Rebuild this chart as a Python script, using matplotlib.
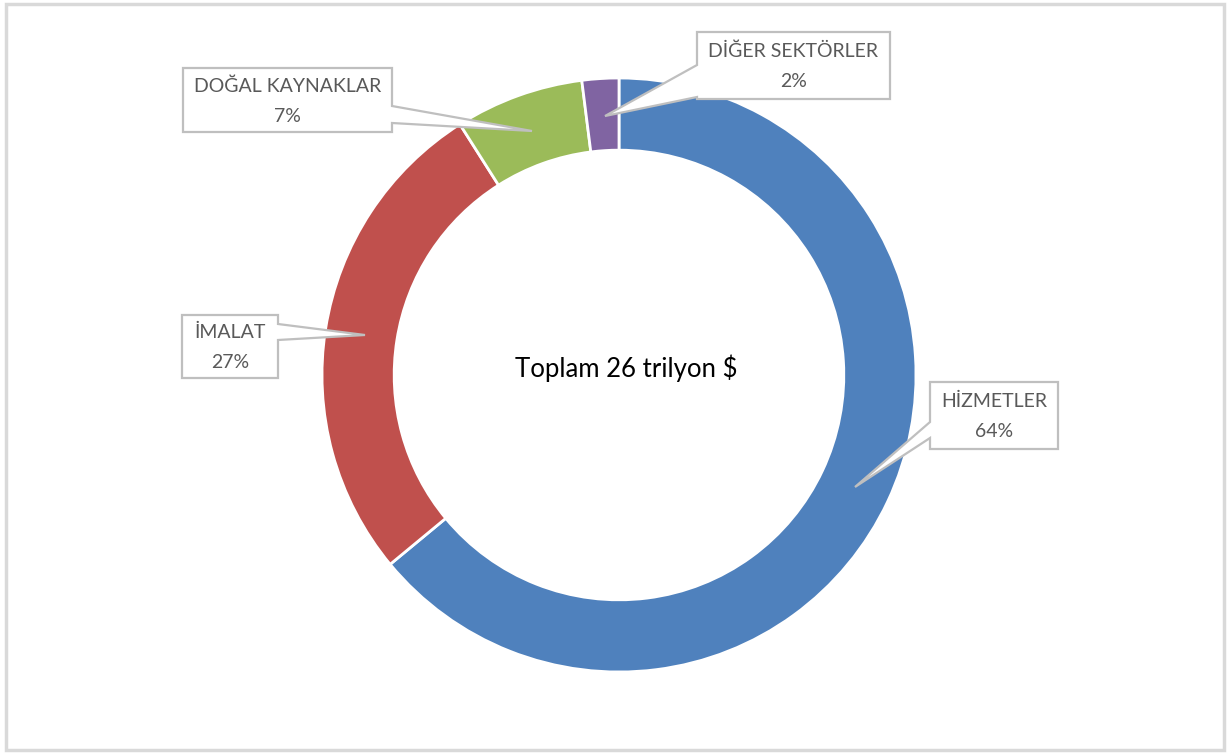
import matplotlib.pyplot as plt
from matplotlib.patches import Polygon, Rectangle

# data
sectors = ["HİZMETLER", "İMALAT", "DOĞAL KAYNAKLAR", "DİĞER SEKTÖRLER"]
shares = [64, 27, 7, 2]
colors = ["#4F81BD", "#C0504D", "#9BBB59", "#8064A2"]
center_text = "Toplam 26 trilyon $"

W, H = 1229, 754
fig = plt.figure(figsize=(W / 100, H / 100), dpi=100)
ax = fig.add_axes([0, 0, 1, 1])
ax.set_xlim(0, W)
ax.set_ylim(0, H)
ax.set_aspect("equal")
ax.axis("off")

# outer frame
fig.patches.append(Rectangle((6 / W, 4 / H), 1218 / W, 746 / H, transform=fig.transFigure,
                             fill=False, edgecolor="#d9d9d9", linewidth=2.5))

cx, cy, R = 619, H - 375, 297
ax.pie(shares, colors=colors, startangle=90, counterclock=False, center=(cx, cy), radius=R,
       wedgeprops=dict(width=R * 0.243, edgecolor="white", linewidth=2))
ax.set_xlim(0, W)
ax.set_ylim(0, H)
ax.text(cx + 7, cy + 7, center_text, ha="center", va="center", fontsize=18.5,
        family="Lato", color="black")

# callouts: box (x0, y0, x1, y1) in pixels from top, pointer side, base y-range, tip
callouts = [
    ((930, 382, 1058, 449), "left", (422, 438), (855, 487)),
    ((182, 315, 278, 378), "right", (324, 340), (365, 335)),
    ((183, 68, 392, 132), "right", (106, 123), (532, 131)),
    ((697, 32, 890, 99), "left", (65, 97), (605, 116)),
]

for (x0, y0, x1, y1), side, (b0, b1), tip in callouts:
    if side == "left":
        pts = [(x0, y0), (x1, y0), (x1, y1), (x0, y1), (x0, b1), tip, (x0, b0)]
    else:
        pts = [(x0, y0), (x1, y0), (x1, b0), tip, (x1, b1), (x1, y1), (x0, y1)]
    pts = [(px, H - py) for px, py in pts]
    ax.add_patch(Polygon(pts, closed=True, facecolor="white", edgecolor="#bfbfbf",
                         linewidth=1.6, zorder=5))

for name, val, ((x0, y0, x1, y1), _, _, _) in zip(sectors, shares, callouts):
    xm = (x0 + x1) / 2
    ym = (y0 + y1) / 2
    ax.text(xm, H - (ym - 14), name, ha="center", va="center", fontsize=14,
            family="Lato", color="#595959", zorder=6)
    ax.text(xm, H - (ym + 16), f"{val}%", ha="center", va="center", fontsize=14,
            family="Lato", color="#595959", zorder=6)

fig.savefig("out.png", dpi=100, facecolor="white")
